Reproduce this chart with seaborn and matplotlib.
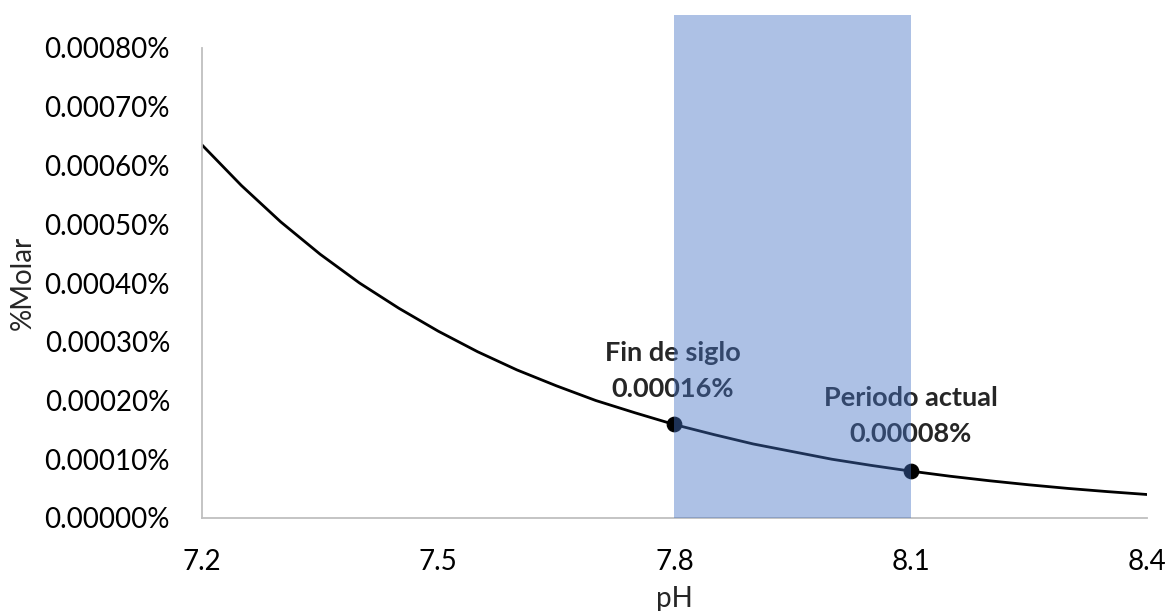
import matplotlib
matplotlib.use("Agg")
import matplotlib.pyplot as plt
import seaborn as sns
import pandas as pd
from matplotlib.ticker import FuncFormatter

ph = [7.20, 7.25, 7.30, 7.35, 7.40, 7.45, 7.50, 7.55, 7.60, 7.65, 7.70, 7.75, 7.80,
      7.85, 7.90, 7.95, 8.00, 8.05, 8.10, 8.15, 8.20, 8.25, 8.30, 8.35, 8.40]
molar = [0.000635, 0.000566, 0.000504, 0.000449, 0.000400, 0.000357, 0.000318, 0.000283,
         0.000252, 0.000225, 0.000200, 0.000179, 0.000159, 0.000142, 0.000126, 0.000113,
         0.000100, 0.0000895, 0.0000798, 0.0000711, 0.0000634, 0.0000565, 0.0000503,
         0.0000449, 0.0000400]
point_ph = [7.8, 8.1]
point_molar = [0.00016, 0.00008]
point_labels = ["Fin de siglo\n0.00016%", "Periodo actual\n0.00008%"]
band = [7.8, 8.1]
x_ticks = [7.2, 7.5, 7.8, 8.1, 8.4]
y_ticks = [0, 0.0001, 0.0002, 0.0003, 0.0004, 0.0005, 0.0006, 0.0007, 0.0008]

sns.set_style("white")
plt.rcParams['font.family'] = ['Lato', 'DejaVu Sans']

fig = plt.figure(figsize=(11.7, 6.11), dpi=100)
ax = fig.add_axes([202/1170, 1-518/611, (1147-202)/1170, (518-48)/611])

df = pd.DataFrame({"pH": ph, "molar": molar})
sns.lineplot(data=df, x="pH", y="molar", ax=ax, color="black", linewidth=2, zorder=2)
pts = pd.DataFrame({"pH": point_ph, "molar": point_molar})
sns.scatterplot(data=pts, x="pH", y="molar", ax=ax, color="black", s=110, zorder=3, edgecolor="black")

ax.text(point_ph[0] - 0.002, 0.000250, point_labels[0], ha="center", va="center", fontsize=19.5,
        fontweight="bold", linespacing=1.6, zorder=4)
ax.text(point_ph[1], 0.000174, point_labels[1], ha="center", va="center", fontsize=19.5,
        fontweight="bold", linespacing=1.6, zorder=4)

ax.axvspan(band[0], band[1], ymin=0, ymax=(518-15)/(518-48), color="#4472C4", alpha=0.44,
           lw=0, zorder=5, clip_on=False)

ax.set_xlim(7.2, 8.4)
ax.set_ylim(0, 0.0008)
ax.set_xticks(x_ticks)
ax.set_xticklabels([f"{v:.1f}" for v in x_ticks])
ax.set_yticks(y_ticks)
ax.yaxis.set_major_formatter(FuncFormatter(lambda v, p: f"{v:.5f}%"))
ax.tick_params(axis="both", length=0, labelsize=20, colors="black")
ax.tick_params(axis="x", pad=22)
ax.tick_params(axis="y", pad=23)
for s in ["top", "right"]:
    ax.spines[s].set_visible(False)
for s in ["left", "bottom"]:
    ax.spines[s].set_color("#BFBFBF")
    ax.spines[s].set_linewidth(1.3)
ax.set_xlabel("pH", fontsize=20, labelpad=8)
ax.set_ylabel("%Molar", fontsize=20)
ax.yaxis.set_label_coords(-0.176, 0.5)

fig.savefig("out.png", dpi=100)
